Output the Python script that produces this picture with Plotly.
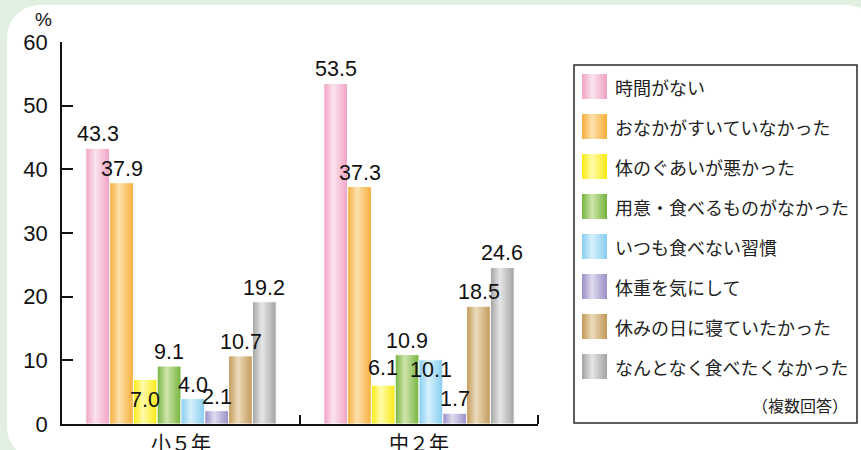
import plotly.graph_objects as go

# ---- data -------------------------------------------------------------
categories = ["小５年", "中２年"]
reasons = [
    "時間がない",
    "おなかがすいていなかった",
    "体のぐあいが悪かった",
    "用意・食べるものがなかった",
    "いつも食べない習慣",
    "体重を気にして",
    "休みの日に寝ていたかった",
    "なんとなく食べたくなかった",
]
grade5 = [43.3, 37.9, 7.0, 9.1, 4.0, 2.1, 10.7, 19.2]
grade8 = [53.5, 37.3, 6.1, 10.9, 10.1, 1.7, 18.5, 24.6]
y_ticks = [0, 10, 20, 30, 40, 50, 60]
note = "（複数回答）"

# ---- styling ----------------------------------------------------------
# (edge colour, highlight colour) of the cylinder-like gradient per reason
shades = [
    ("#f0a2c4", "#fbe3ee"),
    ("#f6ae3a", "#fde1ad"),
    ("#f9ea10", "#fffbaa"),
    ("#74b43e", "#cfe5ac"),
    ("#86cdf0", "#d6f0fc"),
    ("#9a8ec6", "#e0dbef"),
    ("#c29858", "#ecdcbc"),
    ("#a2a2a2", "#e6e6e6"),
]
# labels that sit lower than the bar top to avoid crowding
label_shift = {(0, 2): -35, (1, 4): -24, (1, 2): 3}

W, H = 861, 450
PLOT_L, PLOT_R, PLOT_T, PLOT_B = 62, 538, 42, 424
NUM_FONT = "Liberation Sans, Arial, sans-serif"
JP_FONT = "Noto Sans CJK JP, sans-serif"


def gradient(edge, light):
    return dict(type="horizontal",
                colorscale=[[0, edge], [0.4, light], [1, edge]])


def px(x):
    return x / W


def py(y):
    return 1 - y / H


fig = go.Figure()

# ---- bars (polygons on a numeric category axis) ----------------------
n = len(reasons)
bar_w = 0.8 / n
annotations = []
for g, values in enumerate([grade5, grade8]):
    for i, v in enumerate(values):
        x0 = g - 0.4 + i * bar_w
        x1 = x0 + bar_w
        edge, light = shades[i]
        fig.add_trace(go.Scatter(
            x=[x0, x0, x1, x1, x0], y=[0, v, v, 0, 0],
            mode="lines", fill="toself",
            fillcolor=edge, fillgradient=gradient(edge, light),
            line=dict(color="white", width=1),
            hoverinfo="skip", showlegend=False,
            xaxis="x", yaxis="y",
        ))
        annotations.append(dict(
            x=(x0 + x1) / 2, y=v, xref="x", yref="y",
            text=f"{v:.1f}", showarrow=False,
            xanchor="center", yanchor="bottom",
            yshift=label_shift.get((g, i), 0),
            font=dict(family=NUM_FONT, size=21.5, color="#111"),
        ))

# ---- legend (pixel-space overlay axes) --------------------------------
LEG_X0, LEG_X1, LEG_Y0, LEG_Y1 = 574, 857, 65, 423
row0, row_step, sw = 86.5, 40, 25
for i, name in enumerate(reasons):
    cy = row0 + i * row_step
    sx0, sx1 = 582, 582 + sw
    edge, light = shades[i]
    fig.add_trace(go.Scatter(
        x=[sx0, sx0, sx1, sx1, sx0],
        y=[cy - sw / 2, cy + sw / 2, cy + sw / 2, cy - sw / 2, cy - sw / 2],
        mode="lines", fill="toself",
        fillcolor=edge, fillgradient=gradient(edge, light),
        line=dict(width=0, color=edge),
        hoverinfo="skip", showlegend=False,
        xaxis="x2", yaxis="y2",
    ))
    annotations.append(dict(
        x=613, y=cy, xref="x2", yref="y2", text=name, showarrow=False,
        xanchor="left", yanchor="middle",
        font=dict(family=JP_FONT, size=18, color="#222"),
    ))
annotations.append(dict(
    x=850, y=405, xref="x2", yref="y2", text=note, showarrow=False,
    xanchor="right", yanchor="middle",
    font=dict(family=JP_FONT, size=16, color="#222"),
))
annotations.append(dict(
    x=px(43), y=py(20), xref="paper", yref="paper", text="%",
    showarrow=False, xanchor="center", yanchor="middle",
    font=dict(family=NUM_FONT, size=19, color="#111"),
))

# ---- white rounded panel behind everything ---------------------------
x0, y0, x1, y1, r = 7, 5, 879, 460, 33
k = 0.5523 * r
pts = [
    ("M", [(x0 + r, y0)]),
    ("L", [(x1 - r, y0)]),
    ("C", [(x1 - r + k, y0), (x1, y0 + r - k), (x1, y0 + r)]),
    ("L", [(x1, y1 - r)]),
    ("C", [(x1, y1 - r + k), (x1 - r + k, y1), (x1 - r, y1)]),
    ("L", [(x0 + r, y1)]),
    ("C", [(x0 + r - k, y1), (x0, y1 - r + k), (x0, y1 - r)]),
    ("L", [(x0, y0 + r)]),
    ("C", [(x0, y0 + r - k), (x0 + r - k, y0), (x0 + r, y0)]),
]
path = " ".join(
    cmd + " " + " ".join(f"{px(a):.5f},{py(b):.5f}" for a, b in p)
    for cmd, p in pts
) + " Z"

shapes = [
    dict(type="path", path=path, xref="paper", yref="paper",
         fillcolor="white", line=dict(width=0), layer="below"),
    dict(type="rect", xref="x2", yref="y2",
         x0=LEG_X0, x1=LEG_X1, y0=LEG_Y0, y1=LEG_Y1,
         line=dict(color="#2a2a2a", width=1.5), fillcolor="rgba(0,0,0,0)"),
]

fig.update_layout(
    width=W, height=H,
    margin=dict(l=0, r=0, t=0, b=0, autoexpand=False),
    paper_bgcolor="#e2f0e2",
    plot_bgcolor="rgba(0,0,0,0)",
    showlegend=False,
    annotations=annotations,
    shapes=shapes,
    xaxis=dict(
        domain=[px(PLOT_L), px(PLOT_R)], range=[-0.5, 1.5],
        tickmode="array", tickvals=[0, 1], ticktext=categories,
        ticks="", showgrid=False, zeroline=False,
        showline=True, linecolor="#111", linewidth=1.5,
        tickfont=dict(family=JP_FONT, size=20, color="#111"),
        ticklabelstandoff=1, automargin=False,
        minor=dict(tickmode="array", tickvals=[0.5, 1.5], ticks="inside",
                   ticklen=9, tickwidth=1.5, tickcolor="#111"),
        fixedrange=True, anchor="y",
    ),
    yaxis=dict(
        domain=[py(PLOT_B), py(PLOT_T)], range=[0, 60],
        tickmode="array", tickvals=y_ticks,
        ticks="inside", ticklen=11, tickwidth=1.5, tickcolor="#111",
        showgrid=False, zeroline=False,
        showline=True, linecolor="#111", linewidth=1.5,
        tickfont=dict(family=NUM_FONT, size=22, color="#111"),
        ticklabelstandoff=8, automargin=False,
        fixedrange=True, anchor="x",
    ),
    xaxis2=dict(domain=[0, 1], range=[0, W], visible=False,
                fixedrange=True, anchor="y2", automargin=False),
    yaxis2=dict(domain=[0, 1], range=[H, 0], visible=False,
                fixedrange=True, anchor="x2", automargin=False),
)

fig.write_html("out.html")
